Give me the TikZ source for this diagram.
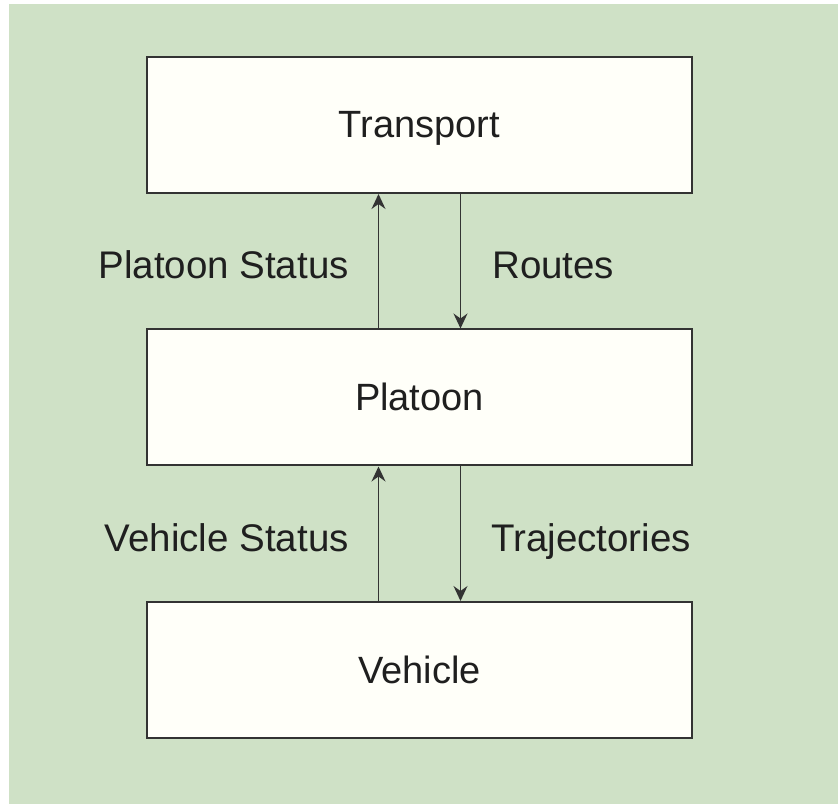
\documentclass[tikz,border=0pt]{standalone}
\usepackage{fontspec}
\setmainfont{Liberation Sans}
\usetikzlibrary{arrows.meta}
\definecolor{panel}{HTML}{CFE1C6}
\definecolor{boxfill}{HTML}{FFFFF9}
\definecolor{edge}{HTML}{333333}
\tikzset{
  layer/.style={draw=edge, line width=2pt, fill=boxfill, minimum width=545pt,
    minimum height=136pt, inner sep=0pt, text height=26pt, text depth=0pt,
    font=\fontsize{38}{44}\selectfont, text=black!88},
  flow/.style={draw=edge, line width=1.5pt, -{Stealth[length=15pt,width=14pt,inset=5pt]}},
  tag/.style={font=\fontsize{38.5}{44}\selectfont, inner sep=0pt, text=black!88}
}
\begin{document}
\begin{tikzpicture}[x=1pt,y=1pt]
  \useasboundingbox (0,0) rectangle (838,804);
  \fill[white] (0,0) rectangle (838,804);
  \fill[panel] (9,0) rectangle (838,800);

  \node[layer] (transport) at (419.5,679) {Transport};
  \node[layer] (platoon)   at (419.5,406.5) {Platoon};
  \node[layer] (vehicle)   at (419.5,134) {Vehicle};

  \coordinate (pu) at (378.5,0);
  \coordinate (pd) at (460.5,0);

  \draw[flow] (platoon.north -| pu) -- (transport.south -| pu);
  \draw[flow] (transport.south -| pd) -- (platoon.north -| pd);
  \draw[flow] (vehicle.north -| pu) -- (platoon.south -| pu);
  \draw[flow] (platoon.south -| pd) -- (vehicle.north -| pd);

  \node[tag, anchor=base east] (ps) at (349,525) {Platoon Status};
  \node[tag, anchor=base west] (rt) at (492,525) {Routes};
  \node[tag, anchor=base east] (vs) at (349,252) {Vehicle Status};
  \node[tag, anchor=base west] (tr) at (491,252) {Trajectories};
\end{tikzpicture}
\end{document}
